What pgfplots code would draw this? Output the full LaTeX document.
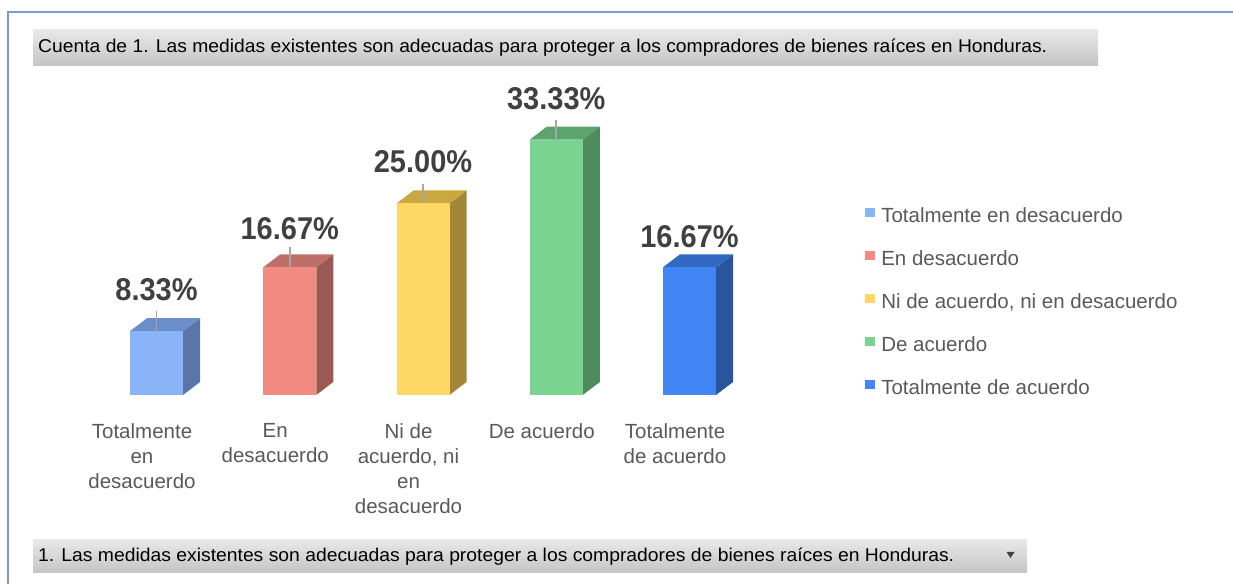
\documentclass[border=0pt]{standalone}
\usepackage{fontspec}
\setmainfont{Liberation Sans}
\newfontfamily\lblfont{Liberation Sans}[FakeStretch=0.92]
\usepackage{graphicx}
\usepackage{pgfplots}
\pgfplotsset{compat=1.18}

\definecolor{f1}{HTML}{8AB4F8}\definecolor{t1}{HTML}{6C8DCC}\definecolor{s1}{HTML}{5B75A9}
\definecolor{f2}{HTML}{F28B82}\definecolor{t2}{HTML}{BD6F68}\definecolor{s2}{HTML}{9C5954}
\definecolor{f3}{HTML}{FDD663}\definecolor{t3}{HTML}{C9A83F}\definecolor{s3}{HTML}{A18737}
\definecolor{f4}{HTML}{7BD392}\definecolor{t4}{HTML}{5BA46E}\definecolor{s4}{HTML}{4F8B5D}
\definecolor{f5}{HTML}{4285F4}\definecolor{t5}{HTML}{3068C4}\definecolor{s5}{HTML}{2A559E}
\definecolor{lbl}{HTML}{404040}
\definecolor{cat}{HTML}{595959}
\definecolor{leader}{HTML}{A6A6A6}
\definecolor{framec}{HTML}{7A9CCF}
\definecolor{boxtop}{HTML}{E8E8E8}
\definecolor{boxbot}{HTML}{C4C4C4}

\pgfplotsset{
  sqlegend/.style={legend image code/.code={\fill[##1] (0bp,0bp) rectangle (10bp,9bp);}},
  pct/.style={nodes near coords={\pgfmathprintnumber[fixed,fixed zerofill,precision=2,assume math mode=true]{\pgfplotspointmeta}\%}},
}
\tikzset{
  lblstyle/.style={font=\lblfont\bfseries\fontsize{31.5bp}{32bp}\selectfont, text=lbl, anchor=base, inner sep=0pt},
}

\begin{document}
\begin{tikzpicture}[x=1bp,y=1bp]
\path[use as bounding box] (0,0) rectangle (1233,584);
% outer frame
\draw[framec, line width=2.5bp] (8,0) -- (8,572) -- (1233,572);
% title box
\shade[top color=boxtop, bottom color=boxbot] (33,554) rectangle (1098,518);
\node[anchor=base west, inner sep=0pt, text=black] at (38,531)
  {\resizebox{1009bp}{\height}{\fontsize{18.5bp}{20bp}\selectfont Cuenta de 1. Las medidas existentes son adecuadas para proteger a los compradores de bienes raíces en Honduras.}};
% bottom box
\shade[top color=boxtop, bottom color=boxbot] (33,44) rectangle (1027,11);
\node[anchor=base west, inner sep=0pt, text=black] at (38,22)
  {\resizebox{916bp}{\height}{\fontsize{18.5bp}{20bp}\selectfont 1. Las medidas existentes son adecuadas para proteger a los compradores de bienes raíces en Honduras.}};
\fill[lbl] (1006.5,32) -- (1014.5,32) -- (1010.5,26) -- cycle;

\begin{axis}[
  at={(23.25bp,189bp)}, anchor=south west,
  x=133.25bp, y=7.66bp,
  xmin=-1, xmax=5, ymin=0, ymax=40,
  clip=false,
  axis line style={draw=none},
  major tick length=0pt,
  ytick=\empty,
  xtick={0,1,2,3,4},
  xticklabels={{Totalmente\\en\\desacuerdo},{En\\desacuerdo},{Ni de\\acuerdo, ni\\en\\desacuerdo},{De acuerdo},{Totalmente\\de acuerdo}},
  xticklabel style={align=center, anchor=north, inner sep=0pt, yshift=-28bp, xshift=-14.5bp, text=cat, font=\fontsize{20.5bp}{25bp}\selectfont},
  legend style={at={(1.0529,0.3003)}, anchor=west, draw=none, fill=none,
    font=\fontsize{20.5bp}{24bp}\selectfont, text=cat, row sep=24bp, inner sep=0pt,
    nodes={inner sep=0pt, text height=14.7bp, text depth=4.3bp},
    /tikz/every odd column/.append style={column sep=6bp}},
  legend cell align=left,
  legend entries={Totalmente en desacuerdo, En desacuerdo, {Ni de acuerdo, ni en desacuerdo}, De acuerdo, Totalmente de acuerdo},
]
% side and top faces (depth)
\addplot[fill=s1, draw=none, forget plot] coordinates {(0.199,0) (0.199,8.33) (0.327,10.03) (0.327,1.70)} -- cycle;
\addplot[fill=t1, draw=none, forget plot] coordinates {(-0.199,8.33) (0.199,8.33) (0.327,10.03) (-0.071,10.03)} -- cycle;
\addplot[fill=s2, draw=none, forget plot] coordinates {(1.199,0) (1.199,16.67) (1.327,18.37) (1.327,1.70)} -- cycle;
\addplot[fill=t2, draw=none, forget plot] coordinates {(0.801,16.67) (1.199,16.67) (1.327,18.37) (0.929,18.37)} -- cycle;
\addplot[fill=s3, draw=none, forget plot] coordinates {(2.199,0) (2.199,25.00) (2.327,26.70) (2.327,1.70)} -- cycle;
\addplot[fill=t3, draw=none, forget plot] coordinates {(1.801,25.00) (2.199,25.00) (2.327,26.70) (1.929,26.70)} -- cycle;
\addplot[fill=s4, draw=none, forget plot] coordinates {(3.199,0) (3.199,33.33) (3.327,35.03) (3.327,1.70)} -- cycle;
\addplot[fill=t4, draw=none, forget plot] coordinates {(2.801,33.33) (3.199,33.33) (3.327,35.03) (2.929,35.03)} -- cycle;
\addplot[fill=s5, draw=none, forget plot] coordinates {(4.199,0) (4.199,16.67) (4.327,18.37) (4.327,1.70)} -- cycle;
\addplot[fill=t5, draw=none, forget plot] coordinates {(3.801,16.67) (4.199,16.67) (4.327,18.37) (3.929,18.37)} -- cycle;
% front faces
\addplot[ybar, bar width=53bp, bar shift=0pt, fill=f1, draw=none, sqlegend, point meta=y, pct,
  every node near coord/.append style={lblstyle, yshift=31bp},
  error bars/.cd, y dir=plus, y explicit, error mark=none, error bar style={leader, line width=1.6bp}]
  coordinates {(0,8.33) +- (0,2.6)};
\addplot[ybar, bar width=53bp, bar shift=0pt, fill=f2, draw=none, sqlegend, point meta=y, pct,
  every node near coord/.append style={lblstyle, yshift=28bp},
  error bars/.cd, y dir=plus, y explicit, error mark=none, error bar style={leader, line width=1.6bp}]
  coordinates {(1,16.67) +- (0,2.6)};
\addplot[ybar, bar width=53bp, bar shift=0pt, fill=f3, draw=none, sqlegend, point meta=y, pct,
  every node near coord/.append style={lblstyle, yshift=31bp},
  error bars/.cd, y dir=plus, y explicit, error mark=none, error bar style={leader, line width=1.6bp}]
  coordinates {(2,25.00) +- (0,2.6)};
\addplot[ybar, bar width=53bp, bar shift=0pt, fill=f4, draw=none, sqlegend, point meta=y, pct,
  every node near coord/.append style={lblstyle, yshift=30bp},
  error bars/.cd, y dir=plus, y explicit, error mark=none, error bar style={leader, line width=1.6bp}]
  coordinates {(3,33.33) +- (0,2.6)};
\addplot[ybar, bar width=53bp, bar shift=0pt, fill=f5, draw=none, sqlegend, point meta=y, pct,
  every node near coord/.append style={lblstyle, yshift=20bp}]
  coordinates {(4,16.67)};
\end{axis}
\end{tikzpicture}
\end{document}
